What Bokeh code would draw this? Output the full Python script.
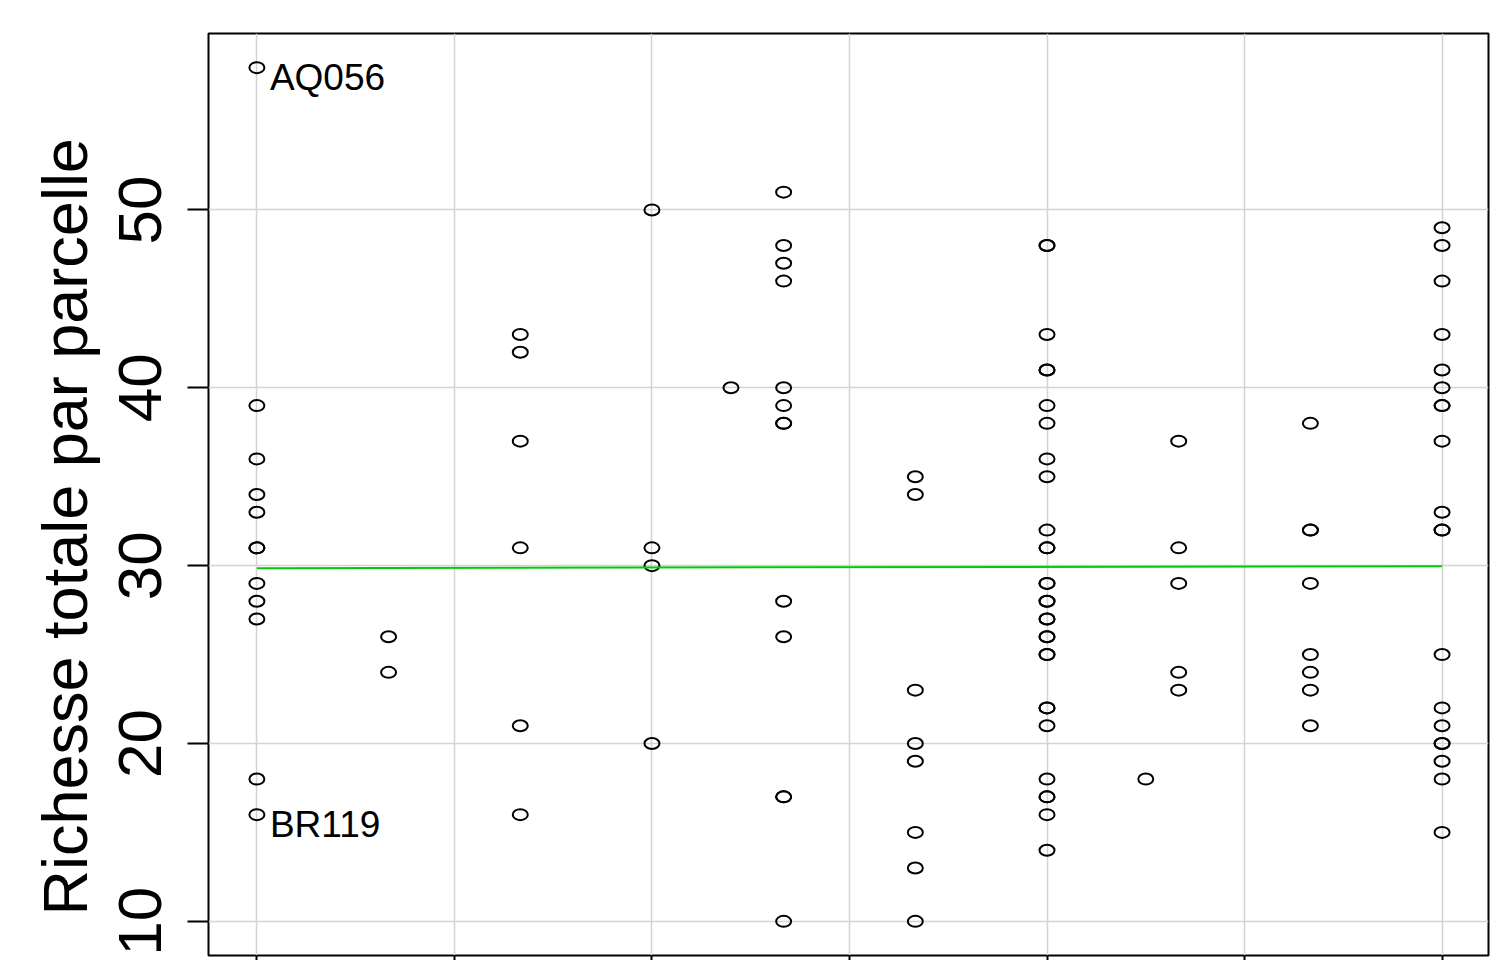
from bokeh.plotting import figure
from bokeh.models import Range1d, FixedTicker, Title, ColumnDataSource
from bokeh.core.properties import value
from bokeh.embed import file_html
from bokeh.resources import INLINE

# ---- data ----
col_x = [0, 2/3, 4/3, 2, 2.4, 8/3, 10/3, 4, 4.5, 14/3, 16/3, 6]
col_y = [
    [58, 39, 36, 34, 33, 31, 31, 29, 28, 27, 18, 16],
    [26, 24],
    [43, 42, 37, 31, 21, 16],
    [50, 31, 30, 20],
    [40],
    [51, 48, 47, 46, 40, 39, 38, 38, 28, 26, 17, 17, 10],
    [35, 34, 23, 20, 19, 15, 13, 10],
    [48, 48, 43, 41, 41, 39, 38, 36, 35, 32, 31, 31, 29, 29, 28, 28, 27, 27,
     26, 26, 25, 25, 22, 22, 21, 18, 17, 17, 16, 14],
    [18],
    [37, 31, 29, 24, 23],
    [38, 32, 32, 29, 25, 24, 23, 21],
    [49, 48, 46, 43, 41, 40, 39, 39, 37, 33, 32, 32, 25, 22, 21, 20, 20, 19, 18, 15],
]
label_x = [0, 0]
label_y = [58, 16]
label_text = ["AQ056", "BR119"]
fit_x = [0, 6]
fit_y = [29.86, 29.96]
x_ticks = [0, 1, 2, 3, 4, 5, 6]
y_ticks = [10, 20, 30, 40, 50]
y_title = "Richesse totale par parcelle"

xs, ys = [], []
for xv, yl in zip(col_x, col_y):
    for yv in yl:
        xs.append(xv)
        ys.append(yv)
src = ColumnDataSource(dict(x=xs, y=ys))

FONT = "Liberation Sans"

p = figure(width=1490, height=960, output_backend="svg", toolbar_location=None,
           x_range=Range1d(-0.245, 6.235), y_range=Range1d(8.08, 59.92),
           min_border_left=208, min_border_top=33, min_border_right=2,
           min_border_bottom=5)
p.background_fill_color = "white"
p.border_fill_color = "white"
p.outline_line_color = "black"
p.outline_line_width = 2
p.outline_line_alpha = 1.0

# grid
for g in (p.xgrid, p.ygrid):
    g.grid_line_color = "#D3D3D3"
    g.grid_line_width = 1.5
p.xaxis.ticker = FixedTicker(ticks=x_ticks)
p.yaxis.ticker = FixedTicker(ticks=y_ticks)

# x axis: ticks only (labels cut off in reference)
xa = p.xaxis[0]
xa.axis_line_color = None
xa.major_tick_out = 5
xa.major_tick_in = 0
xa.major_tick_line_width = 2
xa.minor_tick_line_color = None
xa.major_label_overrides = {t: "" for t in x_ticks}
xa.major_label_standoff = 0

ya = p.yaxis[0]
ya.axis_line_color = None
ya.major_tick_out = 21
ya.major_tick_in = 0
ya.major_tick_line_width = 2
ya.minor_tick_line_color = None
ya.major_label_orientation = "vertical"
ya.major_label_text_font = FONT
ya.major_label_text_font_size = "62px"
ya.major_label_text_color = "black"
ya.major_label_standoff = 26

t = Title(text=y_title, align="left", offset=40, text_font=FONT,
          text_font_size="63px", text_font_style="normal", text_color="black",
          standoff=33)
p.add_layout(t, "left")

p.ellipse(x="x", y="y", source=src, width=15, height=11,
          width_units="screen", height_units="screen",
          fill_color=None, line_color="black", line_width=2)

p.line(fit_x, fit_y, line_color="#00CD00", line_width=2)

p.text(x=label_x, y=label_y, text=label_text, x_offset=13, y_offset=10,
       text_font=value(FONT), text_font_size="37px", text_baseline="alphabetic",
       text_align="left", text_color="black")

open("out.html", "w").write(file_html(p, INLINE))
